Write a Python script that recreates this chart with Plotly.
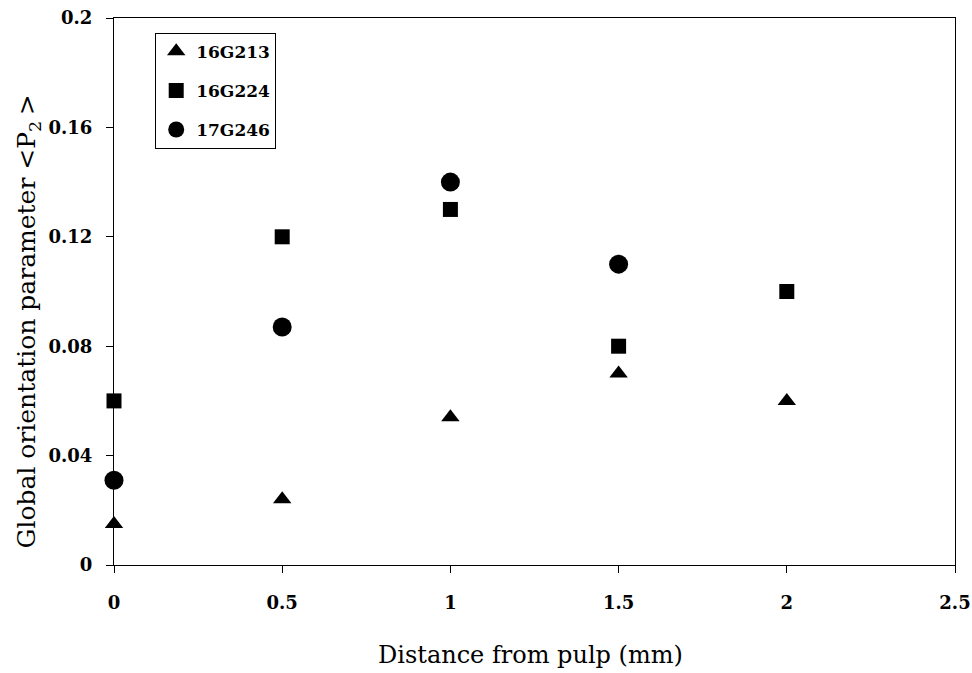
import plotly.graph_objects as go

distance = [0, 0.5, 1, 1.5, 2]
s16G213 = [0.015, 0.024, 0.054, 0.070, 0.060]
s16G224 = [0.060, 0.120, 0.130, 0.080, 0.100]
d17G246 = [0, 0.5, 1, 1.5]
s17G246 = [0.031, 0.087, 0.140, 0.110]

x_ticks = [0, 0.5, 1, 1.5, 2, 2.5]
x_ticktext = ["0", "0.5", "1", "1.5", "2", "2.5"]
y_ticks = [0, 0.04, 0.08, 0.12, 0.16, 0.2]
y_ticktext = ["0", "0.04", "0.08", "0.12", "0.16", "0.2"]

tickfont = dict(family="DejaVu Serif", size=18, color="black", weight="bold")

fig = go.Figure()
fig.add_trace(go.Scatter(x=distance, y=s16G213, mode="markers", name="16G213", legendgroup="a",
                         cliponaxis=False,
                         marker=dict(symbol="triangle-up", size=16, color="black")))
fig.add_trace(go.Scatter(x=distance, y=s16G224, mode="markers", name="16G224", legendgroup="b",
                         cliponaxis=False,
                         marker=dict(symbol="square", size=15, color="black")))
fig.add_trace(go.Scatter(x=d17G246, y=s17G246, mode="markers", name="17G246", legendgroup="c",
                         cliponaxis=False,
                         marker=dict(symbol="circle", size=19, color="black")))

fig.update_layout(
    width=972, height=673,
    margin=dict(l=114, r=17, t=18, b=108, autoexpand=False),
    paper_bgcolor="white", plot_bgcolor="white",
    showlegend=True,
    legend=dict(x=0.049, y=0.973, xanchor="left", yanchor="top",
                bordercolor="black", borderwidth=1, bgcolor="white",
                font=dict(family="DejaVu Serif", size=17, color="black", weight="bold"),
                traceorder="grouped", tracegroupgap=14),
    xaxis=dict(range=[0, 2.5], tickvals=x_ticks, ticktext=x_ticktext, tickfont=tickfont,
               ticks="outside", ticklen=7, tickcolor="black", showgrid=False, zeroline=False,
               showline=True, linecolor="black", linewidth=1, mirror=True,
               ticklabelstandoff=14, ticklabeloverflow="allow"),
    yaxis=dict(range=[0, 0.2], tickvals=y_ticks, ticktext=y_ticktext, tickfont=tickfont,
               ticks="outside", ticklen=7, tickcolor="black", showgrid=False, zeroline=False,
               showline=True, linecolor="black", linewidth=1, mirror=True,
               ticklabelstandoff=10, ticklabeloverflow="allow"),
    annotations=[
        dict(text="Distance from pulp (mm)", xref="paper", yref="paper",
             x=0.495, y=-0.1645, xanchor="center", yanchor="middle", showarrow=False,
             font=dict(family="DejaVu Serif", size=24, color="black")),
        dict(text="Global orientation parameter &lt;P<sub>2 </sub>&gt;", xref="paper", yref="paper",
             x=-0.1023, y=0.445, xanchor="center", yanchor="middle", textangle=-90,
             showarrow=False, font=dict(family="DejaVu Serif", size=25, color="black")),
    ],
)

fig.write_html("out.html", config={"displayModeBar": False},
               post_script="document.body.style.margin='0';")
